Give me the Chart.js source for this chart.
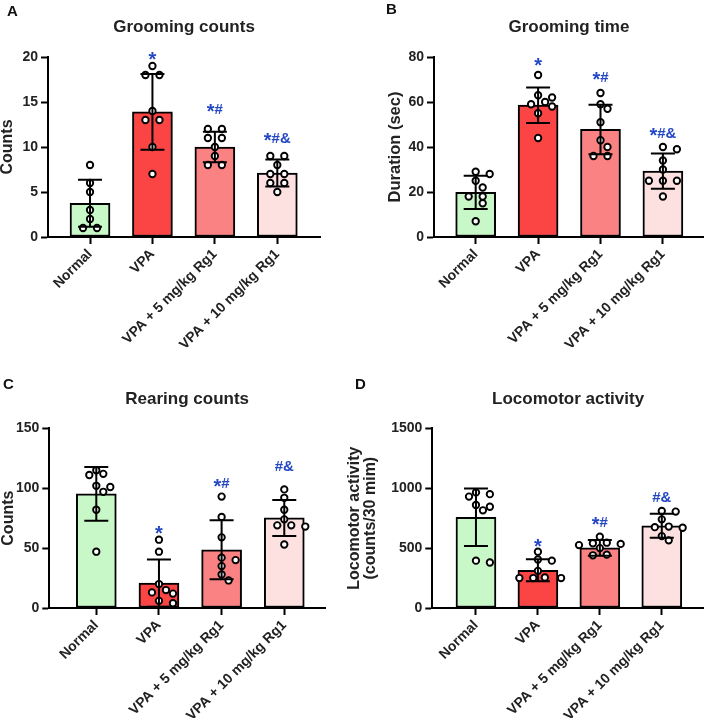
<!DOCTYPE html>
<html><head><meta charset="utf-8">
<script src="https://cdn.jsdelivr.net/npm/chart.js@4.4.1/dist/chart.umd.min.js"></script>
<style>
html,body{margin:0;padding:0;background:#fff;width:709px;height:722px;overflow:hidden;}
.panel{position:absolute;}
.panel canvas{display:block;}
.letter{position:absolute;font:bold 15px "Liberation Sans",Arial,sans-serif;line-height:15px;color:#111;}
</style></head><body>
<div class="panel" style="left:0;top:0;"><canvas id="cA" width="354" height="371"></canvas></div>
<div class="panel" style="left:354px;top:0;"><canvas id="cB" width="355" height="371"></canvas></div>
<div class="panel" style="left:0;top:371px;"><canvas id="cC" width="344" height="351"></canvas></div>
<div class="panel" style="left:344px;top:371px;"><canvas id="cD" width="365" height="351"></canvas></div>
<div class="letter" style="left:7px;top:3px;">A</div>
<div class="letter" style="left:386px;top:1px;">B</div>
<div class="letter" style="left:3px;top:376px;">C</div>
<div class="letter" style="left:355px;top:376px;">D</div>
<script>
// ---------- data ----------
const categories = ['Normal', 'VPA', 'VPA + 5 mg/kg Rg1', 'VPA + 10 mg/kg Rg1'];

const groomingCountsPts = [[8,6,5,3,2,1,1],[19,18,18,14,13,13,10,7],[12,12,11,11,10,9,8,8],[9,9,8,7,7,6,6,5]];
const groomingCountsMean = [3.75, 13.9, 10.0, 7.1];
const groomingCountsSD = [2.6, 4.2, 1.7, 1.5];
const groomingCountsSig = ['', '*', '*#', '*#&'];
const groomingCountsTicks = [0, 5, 10, 15, 20];

const groomingTimePts = [[29,28,25,22,18,18,15,7],[72,63,62,60,59,58,55,44],[64,59,57,51,43,40,36,36],[40,39,34,30,25,25,25,18]];
const groomingTimeMean = [19.8, 58.6, 47.8, 29.3];
const groomingTimeSD = [7.4, 7.9, 11.0, 7.8];
const groomingTimeSig = ['', '*', '*#', '*#&'];
const groomingTimeTicks = [0, 20, 40, 60, 80];

const rearingPts = [[115,112,111,102,101,97,82,47],[57,47,20,15,13,12,6,4],[93,76,59,42,40,35,28,23],[99,92,82,74,69,69,68,53]];
const rearingMean = [95.3, 20.8, 48.6, 75.2];
const rearingSD = [22.5, 19.7, 24.7, 15.0];
const rearingSig = ['', '*', '*#', '#&'];
const rearingTicks = [0, 50, 100, 150];

const locomotorPts = [[965,950,930,860,845,815,395,380],[470,405,395,310,255,250,250,250],[595,545,540,535,525,500,445,440],[810,805,740,680,675,670,600,565]];
const locomotorMean = [757, 315, 502, 686];
const locomotorSD = [240, 92, 65, 100];
const locomotorSig = ['', '*', '*#', '#&'];
const locomotorTicks = [0, 500, 1000, 1500];

// ---------- styling ----------
const FONT = '"Liberation Sans", Arial, Helvetica, sans-serif';
const barColors = ['#c8f8c8', '#fb4444', '#fb8282', '#fde0e0'];
const SIG_COLOR = '#2448c4';
Chart.defaults.font.family = FONT;

function drawSig(ctx, text, cx, baseY) {
  const nf = 'bold 15px ' + FONT, sf = 'bold 20px ' + FONT;
  const parts = text.split('').map(c => {
    ctx.font = c === '*' ? sf : nf;
    return {c, f: ctx.font, w: ctx.measureText(c).width};
  });
  const total = parts.reduce((a, p) => a + p.w, 0);
  let x = cx - total / 2;
  ctx.textAlign = 'left';
  ctx.textBaseline = 'alphabetic';
  parts.forEach(p => {
    ctx.font = p.c === '*' ? sf : nf;
    ctx.fillText(p.c, x, p.c === '*' ? baseY + 4.5 : baseY);
    x += p.w;
  });
}

function makePanel(id, cfg) {
  const errPlugin = {
    id: 'errsig',
    afterDatasetsDraw(chart) {
      const ctx = chart.ctx, xs = chart.scales.x, ys = chart.scales.y;
      ctx.save();
      ctx.strokeStyle = '#000';
      ctx.lineWidth = 2;
      cfg.mean.forEach((m, i) => {
        const x = xs.getPixelForValue(i);
        const yt = ys.getPixelForValue(m + cfg.sd[i]);
        const yb = ys.getPixelForValue(Math.max(0, m - cfg.sd[i]));
        ctx.beginPath();
        ctx.moveTo(x, yt); ctx.lineTo(x, yb);
        ctx.moveTo(x - 12, yt); ctx.lineTo(x + 12, yt);
        ctx.moveTo(x - 12, yb); ctx.lineTo(x + 12, yb);
        ctx.stroke();
      });
      ctx.fillStyle = SIG_COLOR;
      cfg.sig.forEach((s, i) => {
        if (!s) return;
        drawSig(ctx, s, xs.getPixelForValue(i), ys.getPixelForValue(cfg.sigAt[i]));
      });
      ctx.restore();
    }
  };
  const gridOpts = {display: true, drawOnChartArea: false, drawTicks: true, tickLength: 7, tickWidth: 2, tickColor: '#000', offset: false};
  const borderOpts = {display: true, color: '#000', width: 2};
  const chart = new Chart(document.getElementById(id), {
    type: 'bar',
    data: {
      datasets: [
        {type: 'bar', data: cfg.mean.map((m, i) => ({x: i, y: m})), backgroundColor: barColors,
         borderColor: '#000', borderWidth: 2, borderSkipped: false, barThickness: 40, order: 2},
        {type: 'scatter', data: [], pointRadius: 3.2, pointHoverRadius: 3.2, pointBorderWidth: 1.9,
         pointBackgroundColor: '#fff', pointBorderColor: '#000', order: 1}
      ]
    },
    options: {
      responsive: false, animation: false, events: [],
      layout: {padding: {top: 0, left: 0, right: cfg.rpad, bottom: cfg.bpad}},
      plugins: {
        legend: {display: false}, tooltip: {enabled: false},
        title: {display: true, text: cfg.title, fullSize: false, color: '#222',
                font: {size: 17, weight: 'bold', lineHeight: 1.2}, padding: {top: cfg.ttop, bottom: cfg.tbot}}
      },
      scales: {
        x: {type: 'linear', min: cfg.xmin, max: cfg.xmax, offset: false,
            afterBuildTicks: s => { s.ticks = categories.map((c, i) => ({value: i})); },
            afterFit: s => { s.height = 110; },
            ticks: {autoSkip: false, minRotation: 45, maxRotation: 45, color: '#222', padding: 2,
                    font: {size: 14, weight: 'bold'}, callback: v => categories[v]},
            grid: gridOpts, border: borderOpts},
        y: {type: 'linear', min: 0, max: cfg.ticks[cfg.ticks.length - 1],
            afterBuildTicks: s => { s.ticks = cfg.ticks.map(v => ({value: v})); },
            afterFit: s => { s.width = cfg.yw; },
            ticks: {color: '#222', padding: 3, font: {size: 14, weight: 'bold'}, callback: v => String(v)},
            grid: gridOpts, border: borderOpts,
            title: {display: true, text: cfg.ytitle, color: '#222',
                    font: {size: cfg.ytsize, weight: 'bold', lineHeight: 1}, padding: {top: cfg.ytpad, bottom: 0}}}
      }
    },
    plugins: [errPlugin]
  });
  // column-scatter (beeswarm) placement computed with the chart's own scales
  const xs = chart.scales.x, ys = chart.scales.y;
  const ppu = xs.getPixelForValue(1) - xs.getPixelForValue(0);
  const STEP = 7, MIND = 7.5;
  const pts = [];
  cfg.pts.forEach((vals, i) => {
    const placed = [];
    vals.slice().sort((a, b) => b - a).forEach(v => {
      const py = ys.getPixelForValue(v);
      let off = 0;
      for (let k = 0; k < 60; k++) {
        const c = k === 0 ? 0 : (k % 2 ? 1 : -1) * Math.ceil(k / 2) * STEP;
        if (placed.every(p => Math.hypot(p.dx - c, p.py - py) >= MIND)) { off = c; break; }
      }
      placed.push({dx: off, py, v});
    });
    const byVal = {};
    placed.forEach(p => { (byVal[p.v] = byVal[p.v] || []).push(p); });
    Object.values(byVal).forEach(g => {
      if (g.length < 2) return;
      const mean = g.reduce((a, p) => a + p.dx, 0) / g.length;
      g.forEach(p => { p.dx -= mean; });
    });
    placed.forEach(p => pts.push({x: i + p.dx / ppu, y: p.v}));
  });
  chart.data.datasets[1].data = pts;
  chart.update('none');
  return chart;
}

makePanel('cA', {title: 'Grooming counts', ytitle: 'Counts', ytsize: 16, ytpad: 0,
  pts: groomingCountsPts, mean: groomingCountsMean, sd: groomingCountsSD, sig: groomingCountsSig,
  sigAt: [null, 19.55, 13.7, 10.5], ticks: groomingCountsTicks,
  yw: 48, rpad: 34, bpad: 24, ttop: 17.5, tbot: 19.1, xmin: -0.673, xmax: 3.684});

makePanel('cB', {title: 'Grooming time', ytitle: 'Duration (sec)', ytsize: 16.5, ytpad: 33,
  pts: groomingTimePts, mean: groomingTimeMean, sd: groomingTimeSD, sig: groomingTimeSig,
  sigAt: [null, 75.3, 68.9, 44.2], ticks: groomingTimeTicks,
  yw: 80, rpad: 5, bpad: 24, ttop: 17.5, tbot: 19.1, xmin: -0.668, xmax: 3.657});

makePanel('cC', {title: 'Rearing counts', ytitle: 'Counts', ytsize: 16, ytpad: 1,
  pts: rearingPts, mean: rearingMean, sd: rearingSD, sig: rearingSig,
  sigAt: [null, 60.2, 100, 114.4], ticks: rearingTicks,
  yw: 49.3, rpad: 19, bpad: 4, ttop: 18.5, tbot: 18.4, xmin: -0.75, xmax: 3.65});

makePanel('cD', {title: 'Locomotor activity', ytitle: ['Locomotor activity', '(counts/30 mim)'], ytsize: 16, ytpad: 3,
  pts: locomotorPts, mean: locomotorMean, sd: locomotorSD, sig: locomotorSig,
  sigAt: [null, 497, 680, 883], ticks: locomotorTicks,
  yw: 88.3, rpad: 3.3, bpad: 4, ttop: 18.5, tbot: 18.4, xmin: -0.705, xmax: 3.68});
</script>
</body></html>
